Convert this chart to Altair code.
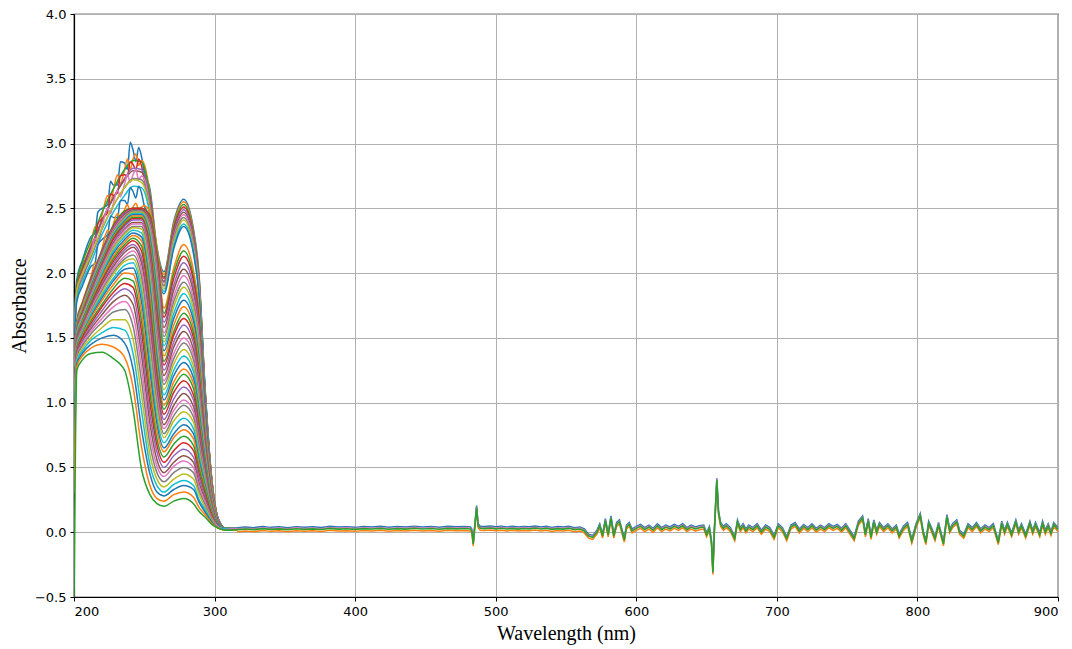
import altair as alt
import pandas as pd

# Wavelengths (nm) at which each UV spectrum is sampled
UV_W = [200, 202, 206, 212, 220, 228, 236, 242, 248, 254, 259, 264, 271, 278, 285, 289, 293, 298, 303, 308, 316]

# Absorbance per wavelength column: 11 upper spectra, then 42 lower spectra (top to bottom)
A200 = [1.62, 1.3, 1.5, 1.45, 1.35, 1.55, 1.4, 1.6, 1.3, 1.5, 1.45] + [1.3, 1.2, 1.35, 1.25, 1.1, 1.3, 1.2, 1.15, 1.28, 1.05, 1.2, 1.1, 1.25, 1.0, 1.15, 1.2, 1.05, 1.1, 1.22, 1.0, 1.12, 1.18, 0.98, 1.1, 1.05, 1.2, 1.0, 1.08, 1.12, 0.95, 1.05, 1.0, 1.1, 0.9, 1.0, 0.95, 1.05, 0.9, 0.85, 0.7, 0.3, -0.6]
A202 = [1.95, 1.9, 1.92, 1.88, 1.85, 1.9, 1.86, 1.83, 1.87, 1.8, 1.78] + [1.64, 1.63, 1.62, 1.62, 1.61, 1.6, 1.6, 1.59, 1.58, 1.58, 1.57, 1.57, 1.56, 1.55, 1.55, 1.54, 1.53, 1.53, 1.52, 1.51, 1.5, 1.5, 1.49, 1.48, 1.47, 1.46, 1.45, 1.44, 1.43, 1.42, 1.41, 1.4, 1.39, 1.38, 1.37, 1.36, 1.35, 1.33, 1.32, 1.3, 1.28, 1.25]
A206 = [2.1, 2.05, 2.08, 2.02, 2.0, 2.04, 1.98, 1.96, 2.0, 1.93, 1.9] + [1.78, 1.77, 1.76, 1.75, 1.75, 1.74, 1.73, 1.73, 1.72, 1.71, 1.71, 1.7, 1.69, 1.68, 1.68, 1.67, 1.66, 1.65, 1.64, 1.63, 1.62, 1.61, 1.6, 1.59, 1.58, 1.57, 1.56, 1.55, 1.54, 1.53, 1.52, 1.51, 1.5, 1.48, 1.47, 1.46, 1.44, 1.42, 1.4, 1.38, 1.36, 1.33]
A212 = [2.28, 2.22, 2.25, 2.2, 2.17, 2.2, 2.15, 2.12, 2.14, 2.08, 2.05] + [1.97, 1.96, 1.95, 1.94, 1.93, 1.92, 1.91, 1.91, 1.9, 1.89, 1.88, 1.87, 1.86, 1.85, 1.84, 1.83, 1.82, 1.81, 1.8, 1.79, 1.78, 1.77, 1.75, 1.74, 1.73, 1.72, 1.7, 1.69, 1.68, 1.66, 1.65, 1.63, 1.61, 1.59, 1.57, 1.55, 1.53, 1.5, 1.48, 1.45, 1.42, 1.38]
A220 = [2.5, 2.45, 2.47, 2.42, 2.4, 2.41, 2.36, 2.34, 2.35, 2.3, 2.26] + [2.19, 2.18, 2.17, 2.16, 2.15, 2.14, 2.13, 2.12, 2.11, 2.1, 2.09, 2.08, 2.07, 2.06, 2.05, 2.04, 2.02, 2.01, 2.0, 1.98, 1.97, 1.95, 1.94, 1.92, 1.91, 1.89, 1.87, 1.85, 1.83, 1.81, 1.79, 1.76, 1.74, 1.71, 1.68, 1.65, 1.62, 1.58, 1.54, 1.5, 1.45, 1.39]
A228 = [2.68, 2.64, 2.65, 2.6, 2.58, 2.58, 2.54, 2.52, 2.52, 2.47, 2.43] + [2.38, 2.37, 2.36, 2.35, 2.34, 2.33, 2.32, 2.31, 2.3, 2.29, 2.28, 2.27, 2.26, 2.24, 2.23, 2.22, 2.2, 2.19, 2.17, 2.15, 2.13, 2.11, 2.09, 2.07, 2.05, 2.03, 2.01, 1.99, 1.96, 1.94, 1.91, 1.88, 1.85, 1.82, 1.78, 1.74, 1.7, 1.64, 1.58, 1.52, 1.43, 1.34]
A236 = [2.85, 2.8, 2.8, 2.76, 2.73, 2.72, 2.69, 2.66, 2.66, 2.6, 2.56] + [2.49, 2.48, 2.47, 2.46, 2.45, 2.44, 2.43, 2.42, 2.41, 2.4, 2.39, 2.38, 2.37, 2.36, 2.34, 2.33, 2.31, 2.3, 2.28, 2.26, 2.24, 2.22, 2.2, 2.18, 2.16, 2.13, 2.11, 2.09, 2.06, 2.03, 2.0, 1.96, 1.92, 1.88, 1.83, 1.78, 1.72, 1.64, 1.56, 1.46, 1.35, 1.25]
A242 = [2.95, 2.88, 2.87, 2.84, 2.81, 2.79, 2.76, 2.73, 2.72, 2.67, 2.63] + [2.51, 2.5, 2.5, 2.49, 2.49, 2.48, 2.48, 2.47, 2.46, 2.45, 2.44, 2.43, 2.42, 2.41, 2.39, 2.38, 2.36, 2.35, 2.33, 2.31, 2.29, 2.27, 2.25, 2.22, 2.2, 2.17, 2.14, 2.11, 2.08, 2.04, 1.99, 1.94, 1.89, 1.83, 1.76, 1.68, 1.59, 1.49, 1.38, 1.26, 1.12, 0.95]
A248 = [2.9, 2.87, 2.86, 2.83, 2.8, 2.78, 2.75, 2.72, 2.7, 2.66, 2.62] + [2.51, 2.5, 2.5, 2.49, 2.49, 2.48, 2.48, 2.47, 2.46, 2.45, 2.44, 2.43, 2.42, 2.41, 2.39, 2.38, 2.36, 2.34, 2.31, 2.28, 2.25, 2.21, 2.17, 2.12, 2.08, 2.03, 1.97, 1.91, 1.85, 1.78, 1.71, 1.63, 1.55, 1.46, 1.37, 1.27, 1.17, 1.06, 0.94, 0.8, 0.66, 0.49]
A254 = [2.65, 2.62, 2.6, 2.58, 2.56, 2.54, 2.52, 2.5, 2.48, 2.45, 2.42] + [2.47, 2.45, 2.43, 2.41, 2.39, 2.37, 2.35, 2.33, 2.3, 2.27, 2.24, 2.21, 2.18, 2.14, 2.1, 2.06, 2.02, 1.98, 1.93, 1.88, 1.83, 1.77, 1.71, 1.65, 1.59, 1.52, 1.45, 1.38, 1.31, 1.24, 1.16, 1.08, 1.0, 0.92, 0.84, 0.76, 0.68, 0.6, 0.52, 0.45, 0.36, 0.29]
A259 = [2.2, 2.18, 2.17, 2.15, 2.13, 2.12, 2.1, 2.08, 2.06, 2.04, 2.02] + [2.2, 2.17, 2.13, 2.09, 2.05, 2.01, 1.97, 1.93, 1.89, 1.84, 1.79, 1.74, 1.69, 1.64, 1.59, 1.54, 1.49, 1.44, 1.39, 1.34, 1.29, 1.24, 1.19, 1.14, 1.09, 1.04, 0.99, 0.94, 0.88, 0.83, 0.78, 0.72, 0.67, 0.62, 0.56, 0.51, 0.46, 0.41, 0.36, 0.31, 0.26, 0.22]
A264 = [2.01, 1.99, 1.97, 1.96, 1.94, 1.93, 1.91, 1.9, 1.88, 1.86, 1.84] + [1.73, 1.69, 1.66, 1.62, 1.58, 1.54, 1.51, 1.47, 1.44, 1.40, 1.36, 1.32, 1.29, 1.25, 1.21, 1.17, 1.14, 1.10, 1.06, 1.02, 0.98, 0.95, 0.91, 0.87, 0.83, 0.80, 0.76, 0.73, 0.69, 0.65, 0.62, 0.58, 0.54, 0.50, 0.46, 0.43, 0.39, 0.35, 0.31, 0.28, 0.24, 0.20]
A271 = [2.4, 2.38, 2.36, 2.34, 2.32, 2.3, 2.28, 2.26, 2.24, 2.21, 2.19] + [2.04, 2.0, 1.96, 1.91, 1.87, 1.82, 1.78, 1.74, 1.69, 1.65, 1.6, 1.55, 1.52, 1.47, 1.43, 1.38, 1.34, 1.3, 1.25, 1.21, 1.16, 1.12, 1.08, 1.03, 0.98, 0.94, 0.9, 0.86, 0.81, 0.76, 0.73, 0.68, 0.63, 0.59, 0.54, 0.51, 0.46, 0.41, 0.37, 0.33, 0.29, 0.24]
A278 = [2.57, 2.55, 2.53, 2.51, 2.49, 2.47, 2.45, 2.43, 2.41, 2.38, 2.36] + [2.22, 2.17, 2.13, 2.08, 2.03, 1.98, 1.93, 1.89, 1.84, 1.79, 1.74, 1.69, 1.65, 1.6, 1.55, 1.5, 1.46, 1.41, 1.36, 1.31, 1.26, 1.22, 1.17, 1.12, 1.07, 1.02, 0.98, 0.93, 0.88, 0.83, 0.79, 0.74, 0.69, 0.64, 0.59, 0.55, 0.5, 0.45, 0.4, 0.36, 0.31, 0.26]
A285 = [2.34, 2.32, 2.3, 2.28, 2.27, 2.25, 2.23, 2.21, 2.19, 2.17, 2.15] + [2.02, 1.97, 1.94, 1.89, 1.85, 1.8, 1.76, 1.72, 1.67, 1.63, 1.58, 1.54, 1.5, 1.46, 1.41, 1.37, 1.33, 1.28, 1.24, 1.19, 1.15, 1.11, 1.06, 1.02, 0.97, 0.93, 0.89, 0.85, 0.8, 0.76, 0.72, 0.67, 0.63, 0.58, 0.54, 0.5, 0.46, 0.41, 0.36, 0.33, 0.27, 0.22]
A289 = [1.98, 1.96, 1.95, 1.93, 1.92, 1.9, 1.89, 1.87, 1.86, 1.83, 1.82] + [1.71, 1.66, 1.62, 1.58, 1.53, 1.49, 1.44, 1.41, 1.36, 1.32, 1.28, 1.23, 1.2, 1.16, 1.11, 1.07, 1.04, 1.0, 0.96, 0.92, 0.88, 0.85, 0.81, 0.77, 0.73, 0.69, 0.66, 0.62, 0.59, 0.55, 0.52, 0.49, 0.45, 0.42, 0.38, 0.35, 0.32, 0.29, 0.25, 0.23, 0.19, 0.16]
A293 = [1.16, 1.15, 1.14, 1.13, 1.12, 1.11, 1.1, 1.09, 1.08, 1.07, 1.06] + [0.98, 0.95, 0.94, 0.92, 0.89, 0.87, 0.85, 0.83, 0.81, 0.79, 0.77, 0.74, 0.73, 0.7, 0.68, 0.66, 0.64, 0.62, 0.6, 0.58, 0.55, 0.54, 0.51, 0.49, 0.47, 0.45, 0.43, 0.41, 0.39, 0.37, 0.35, 0.33, 0.3, 0.28, 0.26, 0.24, 0.22, 0.2, 0.18, 0.16, 0.14, 0.12]
A298 = [0.41, 0.41, 0.4, 0.4, 0.4, 0.4, 0.39, 0.39, 0.39, 0.38, 0.38] + [0.38, 0.37, 0.36, 0.35, 0.35, 0.34, 0.33, 0.32, 0.31, 0.3, 0.3, 0.29, 0.28, 0.27, 0.26, 0.26, 0.25, 0.24, 0.23, 0.23, 0.22, 0.21, 0.2, 0.2, 0.19, 0.18, 0.18, 0.17, 0.16, 0.16, 0.15, 0.14, 0.13, 0.12, 0.12, 0.11, 0.1, 0.09, 0.08, 0.08, 0.07, 0.06]
A303 = [0.09, 0.09, 0.09, 0.09, 0.09, 0.09, 0.09, 0.09, 0.09, 0.09, 0.09] + [0.08, 0.08, 0.08, 0.08, 0.08, 0.08, 0.07, 0.07, 0.07, 0.07, 0.07, 0.07, 0.07, 0.07, 0.06, 0.06, 0.06, 0.06, 0.06, 0.06, 0.06, 0.06, 0.05, 0.05, 0.05, 0.05, 0.05, 0.05, 0.05, 0.05, 0.04, 0.04, 0.04, 0.04, 0.04, 0.04, 0.03, 0.03, 0.03, 0.03, 0.03, 0.03]
A308 = [0.03, 0.025, 0.03, 0.025, 0.03, 0.025, 0.03, 0.025, 0.03, 0.025, 0.03] + [0.025, 0.03, 0.02, 0.025, 0.03, 0.02, 0.025, 0.03, 0.02, 0.025, 0.03, 0.02, 0.025, 0.03, 0.02, 0.025, 0.03, 0.02, 0.025, 0.03, 0.02, 0.025, 0.03, 0.02, 0.025, 0.03, 0.02, 0.025, 0.03, 0.02, 0.025, 0.03, 0.02, 0.025, 0.02, 0.025, 0.02, 0.02, 0.025, 0.02, 0.015, 0.015]
A316 = [0.03, 0.025, 0.03, 0.025, 0.03, 0.025, 0.03, 0.025, 0.03, 0.025, 0.03] + [0.02, 0.025, 0.02, 0.025, 0.02, 0.025, 0.02, 0.025, 0.02, 0.025, 0.02, 0.025, 0.02, 0.025, 0.02, 0.025, 0.02, 0.025, 0.02, 0.025, 0.02, 0.025, 0.02, 0.025, 0.02, 0.025, 0.02, 0.025, 0.02, 0.025, 0.02, 0.025, 0.02, 0.025, 0.02, 0.025, 0.02, 0.02, 0.015, 0.02, 0.015, 0.02]

UV_COLUMNS = [A200, A202, A206, A212, A220, A228, A236, A242, A248, A254, A259, A264,
              A271, A278, A285, A289, A293, A298, A303, A308, A316]

# Extra jagged readings on the noisy upper spectra (series index -> values at NOISE_W)
NOISE_W = [215, 217, 224, 226, 231, 233, 238, 240, 244, 246, 250]
NOISE = {
    0: [2.31, 2.47, 2.53, 2.71, 2.68, 2.86, 2.80, 3.01, 2.86, 2.97, 2.78],
    1: [2.36, 2.31, 2.60, 2.54, 2.76, 2.69, 2.88, 2.80, 2.92, 2.83, 2.84],
    3: [2.25, 2.38, 2.47, 2.61, 2.62, 2.75, 2.75, 2.86, 2.80, 2.88, 2.72],
    6: [2.27, 2.24, 2.50, 2.46, 2.64, 2.59, 2.76, 2.70, 2.80, 2.72, 2.73],
    10: [2.08, 2.22, 2.30, 2.44, 2.43, 2.56, 2.53, 2.66, 2.58, 2.67, 2.52],
    11: [2.08, 2.06, 2.33, 2.30, 2.46, 2.42, 2.53, 2.47, 2.54, 2.49, 2.52],
}

# Shared noisy baseline beyond 316 nm (wavelength, absorbance)
TAIL = [(316, 0.02), (322, 0.025), (328, 0.02), (334, 0.028), (340, 0.022), (346, 0.026), (352, 0.02), (358, 0.027), (364, 0.022), (370, 0.026), (376, 0.021), (382, 0.03), (388, 0.024), (394, 0.027), (400, 0.022), (406, 0.028), (412, 0.025), (418, 0.03), (424, 0.023), (430, 0.028), (436, 0.024), (442, 0.031), (448, 0.025), (454, 0.029), (460, 0.023), (466, 0.03), (472, 0.026), (478, 0.029), (482, 0.025), (483, 0.01), (484, -0.09), (485, 0.03), (486.4, 0.19), (487.5, 0.05), (489, 0.03), (492, 0.028), (496, 0.032), (500, 0.026), (504, 0.031), (508, 0.025), (512, 0.03), (516, 0.024), (520, 0.029), (524, 0.026), (528, 0.032), (532, 0.025), (536, 0.03), (540, 0.022), (544, 0.028), (548, 0.024), (552, 0.03), (556, 0.02), (560, 0.025), (563, 0.01), (566, -0.03), (569, -0.04), (572, 0.0), (574, 0.05), (576, -0.03), (578, 0.09), (580, -0.02), (582, 0.11), (584, -0.03), (586, 0.06), (588, 0.08), (590, 0.0), (591.5, -0.06), (593, 0.04), (595, 0.06), (597, 0.01), (600, 0.03), (603, 0.045), (606, 0.02), (609, 0.04), (612, 0.015), (615, 0.05), (618, 0.02), (621, 0.04), (624, 0.025), (627, 0.045), (630, 0.03), (633, 0.05), (636, 0.02), (639, 0.04), (642, 0.025), (645, 0.035), (648, 0.04), (650, -0.02), (652, 0.03), (653.5, -0.08), (654.5, -0.31), (655.5, 0.0), (657.3, 0.4), (658.5, 0.15), (660, 0.06), (662, 0.03), (664, 0.05), (667, 0.02), (670, -0.05), (672, 0.08), (674, 0.02), (676, 0.05), (678, 0.01), (680, 0.04), (683, 0.02), (686, 0.05), (689, 0.0), (692, 0.04), (695, 0.02), (698, -0.04), (701, 0.05), (704, 0.02), (707, -0.05), (710, 0.04), (713, 0.06), (716, 0.01), (719, 0.045), (722, 0.02), (725, 0.05), (728, 0.015), (731, 0.04), (734, 0.02), (737, 0.05), (740, 0.03), (743, 0.045), (746, 0.015), (749, 0.05), (752, 0.0), (755, -0.05), (758, 0.07), (761, 0.11), (763, -0.02), (765, 0.09), (767, -0.04), (769, 0.08), (771, 0.0), (773, 0.06), (776, 0.02), (779, 0.05), (782, 0.01), (785, 0.04), (787, -0.03), (790, 0.03), (793, 0.06), (796, -0.07), (799, 0.05), (802, 0.13), (804, 0.0), (806, -0.08), (808, 0.07), (810, 0.02), (812.5, -0.05), (815, 0.06), (818.5, -0.09), (821, 0.12), (823, 0.01), (825, 0.05), (828, 0.08), (830, 0.0), (833, -0.03), (836, 0.05), (839, 0.02), (842, 0.06), (845, 0.01), (848, 0.04), (851, 0.02), (854, 0.05), (857.5, -0.08), (860, 0.07), (862, 0.0), (864, 0.06), (867, -0.02), (870, 0.08), (872, 0.0), (874, 0.05), (877, -0.03), (880, 0.07), (882, 0.0), (884, 0.06), (887, -0.02), (889, 0.07), (891, 0.0), (893, 0.05), (895, -0.01), (897, 0.06), (900, 0.02)]

TAB10 = ["#1f77b4", "#ff7f0e", "#2ca02c", "#d62728", "#9467bd",
         "#8c564b", "#e377c2", "#7f7f7f", "#bcbd22", "#17becf"]

N = len(A278)
for col in UV_COLUMNS:
    assert len(col) == N, len(col)

names = [f"s{i:02d}" for i in range(N)]
colors = [TAB10[i % 10] for i in range(N)]

rows = []
for i in range(N):
    pts = list(zip(UV_W, [col[i] for col in UV_COLUMNS]))
    if i in NOISE:
        pts += list(zip(NOISE_W, NOISE[i]))
    pts.sort()
    for w, a in pts:
        rows.append({"s": names[i], "w": w, "a": a})
uv_df = pd.DataFrame(rows)
tail_df = pd.DataFrame(TAIL, columns=["w", "a"])

PLOT_H = 583

x_enc = alt.X("w:Q", scale=alt.Scale(domain=[200, 900], nice=False, zero=False),
              axis=alt.Axis(values=list(range(200, 901, 100)), format="d",
                            title="Wavelength (nm)", titleX=492, titleY=36,
                            titleBaseline="middle", titleAlign="center"))
y_enc = alt.Y("a:Q", scale=alt.Scale(domain=[-0.5, 4.0], nice=False, zero=False),
              axis=alt.Axis(values=[-0.5, 0, 0.5, 1, 1.5, 2, 2.5, 3, 3.5, 4], format=".1f",
                            title="Absorbance", titleX=-55, titleY=PLOT_H / 2, titleAngle=270,
                            titleBaseline="middle", titleAlign="center"))

uv = alt.Chart(uv_df).mark_line(interpolate="monotone", strokeWidth=1.5, clip=True).encode(
    x=x_enc, y=y_enc,
    color=alt.Color("s:N", scale=alt.Scale(domain=names, range=colors), legend=None),
)

tail_orange = alt.Chart(tail_df).mark_line(color="#ff7f0e", strokeWidth=1.5, yOffset=2, clip=True).encode(x=x_enc, y=y_enc)
tail_blue = alt.Chart(tail_df).mark_line(color="#1f77b4", strokeWidth=1.5, yOffset=-2, clip=True).encode(x=x_enc, y=y_enc)
tail_pink = alt.Chart(tail_df).mark_line(color="#e377c2", strokeWidth=1.2, yOffset=-1, clip=True).encode(x=x_enc, y=y_enc)
tail_green = alt.Chart(tail_df).mark_line(color="#2ca02c", strokeWidth=1.6, clip=True).encode(x=x_enc, y=y_enc)

chart = alt.layer(uv, tail_orange, tail_blue, tail_pink, tail_green).properties(
    width=984, height=PLOT_H,
    background="white",
    autosize=alt.AutoSizeParams(type="none"),
    padding={"left": 66, "top": 6, "right": 6, "bottom": 52},
).configure_view(stroke="black", strokeWidth=1.2).configure_axis(
    grid=True, gridColor="#b0b0b0", gridWidth=1,
    domainColor="black", domainWidth=1.2,
    tickColor="black", tickSize=4, tickWidth=1,
    labelFont="DejaVu Sans", labelFontSize=13, labelColor="black", labelPadding=4,
    titleFont="Liberation Serif", titleFontSize=20, titleFontWeight="normal", titleColor="black",
)

chart.save("out.html", embed_options={"renderer": "svg", "actions": False})
